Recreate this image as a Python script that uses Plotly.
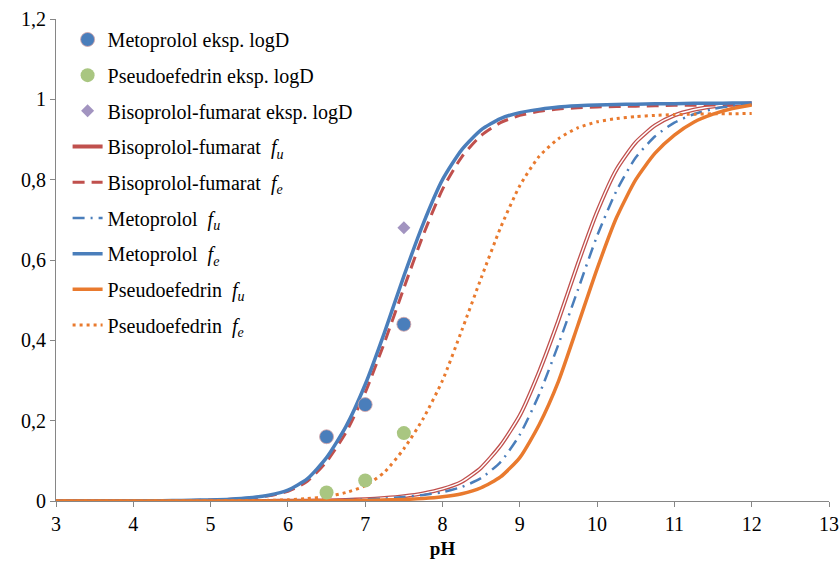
import plotly.graph_objects as go

# pH grid shared by all fraction curves
ph = [3.0, 3.25, 3.5, 3.75, 4.0, 4.25, 4.5, 4.75, 5.0, 5.25, 5.5, 5.75,
      6.0, 6.25, 6.5, 6.75, 7.0, 7.25, 7.5, 7.75, 8.0, 8.25, 8.5, 8.75,
      9.0, 9.25, 9.5, 9.75, 10.0, 10.25, 10.5, 10.75, 11.0, 11.25, 11.5, 11.75, 12.0]

bisoprolol_fu = [0.0, 0.0, 0.0, 0.0, 0.0, 0.0, 0.0001, 0.0001, 0.0001, 0.0001, 0.0002, 0.0003,
                 0.0005, 0.0009, 0.0015, 0.0026, 0.0045, 0.0075, 0.012, 0.019, 0.030, 0.048, 0.083, 0.138,
                 0.213, 0.322, 0.450, 0.590, 0.720, 0.825, 0.893, 0.935, 0.960, 0.974, 0.982, 0.987, 0.990]

bisoprolol_fe = [0.0, 0.0, 0.0001, 0.0002, 0.0003, 0.0005, 0.0009, 0.0015, 0.0025, 0.0041, 0.0071, 0.0130,
                 0.024, 0.049, 0.098, 0.170, 0.270, 0.395, 0.530, 0.662, 0.776, 0.857, 0.910, 0.942,
                 0.960, 0.970, 0.976, 0.979, 0.981, 0.982, 0.983, 0.984, 0.985, 0.985, 0.986, 0.986, 0.987]

metoprolol_fu = [0.0, 0.0, 0.0, 0.0, 0.0, 0.0, 0.0, 0.0, 0.0001, 0.0001, 0.0002, 0.0003,
                 0.0005, 0.0008, 0.0013, 0.0022, 0.0038, 0.0062, 0.010, 0.015, 0.022, 0.035, 0.057, 0.097,
                 0.165, 0.265, 0.390, 0.525, 0.660, 0.772, 0.855, 0.908, 0.942, 0.963, 0.976, 0.984, 0.989]

metoprolol_fe = [0.0, 0.0001, 0.0001, 0.0002, 0.0004, 0.0006, 0.0010, 0.0017, 0.0028, 0.0046, 0.0080, 0.0145,
                 0.027, 0.055, 0.108, 0.185, 0.290, 0.420, 0.560, 0.690, 0.800, 0.875, 0.924, 0.952,
                 0.967, 0.975, 0.981, 0.984, 0.986, 0.987, 0.988, 0.989, 0.989, 0.990, 0.990, 0.991, 0.991]

pseudoefedrin_fu = [0.0, 0.0, 0.0, 0.0, 0.0, 0.0, 0.0, 0.0, 0.0, 0.0, 0.0, 0.0001,
                    0.0002, 0.0003, 0.0005, 0.0008, 0.0013, 0.0022, 0.0037, 0.0062, 0.0105, 0.018, 0.033, 0.060,
                    0.108, 0.190, 0.298, 0.437, 0.578, 0.705, 0.800, 0.866, 0.911, 0.943, 0.963, 0.977, 0.986]

pseudoefedrin_fe = [0.0, 0.0, 0.0, 0.0, 0.0001, 0.0001, 0.0001, 0.0002, 0.0003, 0.0005, 0.0009, 0.0016,
                    0.003, 0.006, 0.011, 0.021, 0.038, 0.072, 0.130, 0.205, 0.300, 0.425, 0.555, 0.680,
                    0.785, 0.858, 0.902, 0.929, 0.944, 0.952, 0.957, 0.960, 0.962, 0.963, 0.964, 0.964, 0.965]

# experimental logD-derived points
metoprolol_exp_ph = [6.5, 7.0, 7.5]
metoprolol_exp = [0.16, 0.24, 0.44]
pseudoefedrin_exp_ph = [6.5, 7.0, 7.5]
pseudoefedrin_exp = [0.021, 0.051, 0.169]
bisoprolol_exp_ph = [7.5]
bisoprolol_exp = [0.68]

x_ticks = [3, 4, 5, 6, 7, 8, 9, 10, 11, 12, 13]
y_ticks = [0, 0.2, 0.4, 0.6, 0.8, 1.0, 1.2]

BLUE = "#4a7ebb"
RED = "#c0504d"
ORANGE = "#e97a2e"
GREEN = "#a9c681"
PURPLE = "#a294c0"
AXIS = "#868686"
FONT = "Times New Roman, Liberation Serif, DejaVu Serif, serif"

FU = "&nbsp; <i>f<sub>u</sub></i>"
FE = "&nbsp; <i>f<sub>e</sub></i>"

fig = go.Figure()

def line(y, name, color, width, dash, rank, group=None, show=True):
    fig.add_trace(go.Scatter(
        x=ph, y=y, mode="lines", name=name,
        line=dict(color=color, width=width, dash=dash, shape="spline", smoothing=0.6),
        legendgroup=group or name, showlegend=show, legendrank=rank,
        hoverinfo="skip" if not show else None,
    ))

# double line: red band with a thin white core
line(bisoprolol_fu, "Bisoprolol-fumarat" + FU, RED, 4, "solid", 4, group="bfu")
line(bisoprolol_fu, "bfu_core", "white", 1.4, "solid", 4, group="bfu", show=False)
line(bisoprolol_fe, "Bisoprolol-fumarat" + FE, RED, 3, "12px,7px", 5)
line(metoprolol_fu, "Metoprolol" + FU, BLUE, 2.5, "12px,6px,2px,6px", 6)
line(metoprolol_fe, "Metoprolol" + FE, BLUE, 3.5, "solid", 7)
line(pseudoefedrin_fu, "Pseudoefedrin" + FU, ORANGE, 3.5, "solid", 8)
line(pseudoefedrin_fe, "Pseudoefedrin" + FE, ORANGE, 3, "3px,4px", 9)

fig.add_trace(go.Scatter(
    x=metoprolol_exp_ph, y=metoprolol_exp, mode="markers", name="Metoprolol eksp. logD",
    marker=dict(color=BLUE, size=14, line=dict(color="#d9a5a5", width=0.8)),
    legendgroup="mexp", legendrank=1))
fig.add_trace(go.Scatter(
    x=pseudoefedrin_exp_ph, y=pseudoefedrin_exp, mode="markers", name="Pseudoefedrin eksp. logD",
    marker=dict(color=GREEN, size=14, line=dict(width=0)),
    legendgroup="pexp", legendrank=2))
fig.add_trace(go.Scatter(
    x=bisoprolol_exp_ph, y=bisoprolol_exp, mode="markers", name="Bisoprolol-fumarat eksp. logD",
    marker=dict(color=PURPLE, size=10, symbol="diamond", line=dict(width=0)),
    legendgroup="bexp", legendrank=3))

fig.update_layout(
    width=839, height=562,
    margin=dict(l=56, r=10, t=19, b=61, autoexpand=False),
    paper_bgcolor="white", plot_bgcolor="white",
    separators=",.",
    font=dict(family=FONT, size=20, color="#000000"),
    showlegend=True,
    legend=dict(
        x=0.015, y=0.998, xanchor="left", yanchor="top",
        bgcolor="rgba(0,0,0,0)", borderwidth=0,
        traceorder="grouped", tracegroupgap=6.7,
        font=dict(family=FONT, size=20, color="#000000"),
    ),
    xaxis=dict(
        range=[3, 13], tickvals=x_ticks, showgrid=False, zeroline=False,
        showline=True, linecolor=AXIS, linewidth=1, automargin=False,
        ticks="outside", ticklen=5, tickcolor=AXIS, layer="below traces",
        title=dict(text="<b>pH</b>", font=dict(family=FONT, size=19), standoff=7),
        tickfont=dict(family=FONT, size=20),
    ),
    yaxis=dict(
        range=[0, 1.2], tickvals=y_ticks, showgrid=False, zeroline=False,
        showline=True, linecolor=AXIS, linewidth=1, automargin=False,
        ticks="outside", ticklen=5, tickcolor=AXIS, layer="below traces",
        tickfont=dict(family=FONT, size=20),
    ),
)

fig.write_html("out.html")
